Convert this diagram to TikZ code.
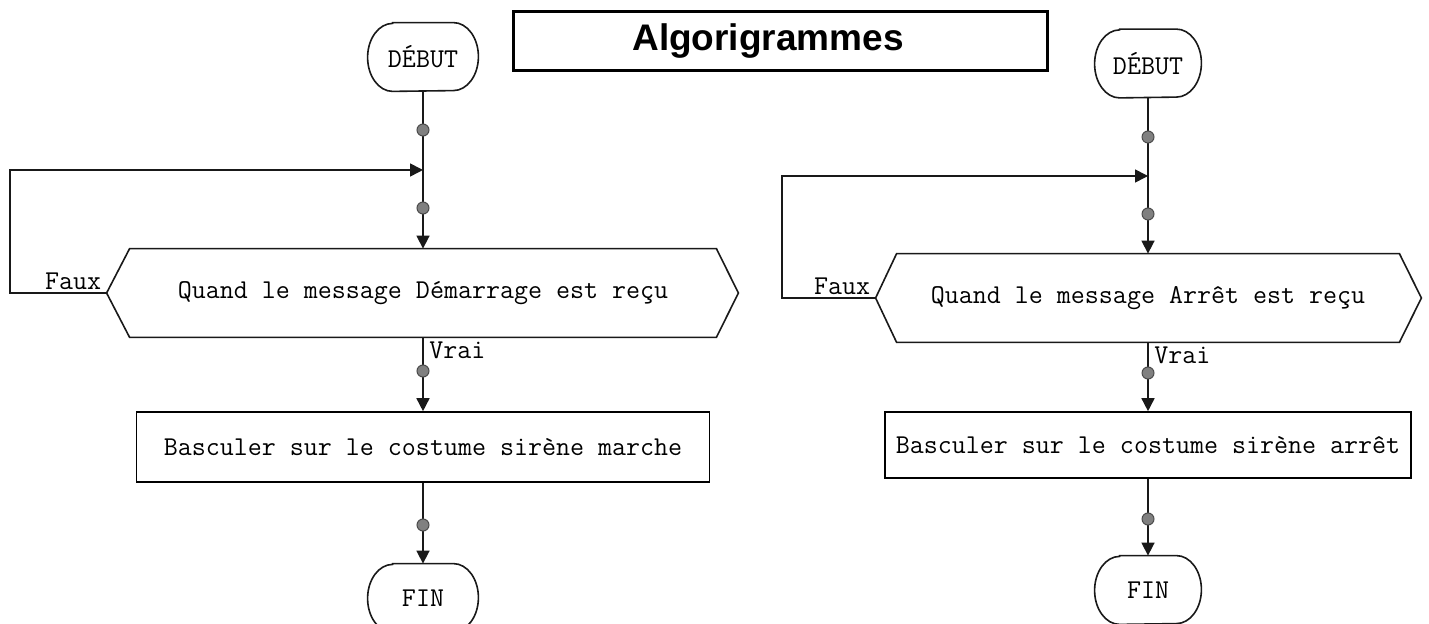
\documentclass[tikz,border=0pt]{standalone}
\usepackage{fontspec}
\setmainfont{Liberation Serif}
\newfontfamily\carial{Liberation Sans}
\usetikzlibrary{arrows.meta,calc}
\tikzset{
  ln/.style={line width=0.8pt, draw=black!90},
  arr/.style={ln, -{Triangle[width=6.5pt,length=6.5pt]}},
  monofont/.style={font=\ttfamily\fontsize{13.6pt}{15pt}\selectfont},
  term/.style={inner sep=0pt, monofont},
  hexn/.style={inner sep=0pt, monofont},
  proc/.style={draw, line width=0.8pt, inner sep=0pt, monofont},
  dotn/.style={circle, fill=black!50, draw=black!70, line width=0.5pt, minimum size=6pt, inner sep=0pt},
  lbl/.style={inner sep=1pt, monofont},
  titlebox/.style={draw, line width=1.5pt, minimum width=267pt, minimum height=29.5pt, inner sep=0pt, font=\carial\bfseries\fontsize{18.5pt}{21pt}\selectfont}
}
\newcommand\termdraw[1]{%
  \draw[ln] ($(#1.north west)+(12.5pt,0)$) -- ($(#1.north east)+(-12.5pt,0)$)
    arc[start angle=90,end angle=-90,x radius=12.5pt,y radius=17pt]
    -- ($(#1.south west)+(12.5pt,0)$)
    arc[start angle=270,end angle=90,x radius=12.5pt,y radius=17pt] -- cycle;}
\begin{document}
\begin{tikzpicture}[x=0.5pt,y=-0.5pt]
\useasboundingbox (0,0) rectangle (1429,624);
\fill[white] (0,0) rectangle (1429,624);

% title
\node[titlebox] (title) at (780,41.5) {\hspace*{-12pt}Algorigrammes};

% ===== left diagram =====
\node[term, minimum width=55pt, minimum height=34pt] (d1) at (423,57) {DÉBUT};
\termdraw{d1}
\coordinate (j1) at (423,170);
\coordinate (l1) at (10,170);
\node[hexn, minimum width=293pt, minimum height=44pt] (h1) at (423,293) {Quand le message Démarrage est reçu};
\coordinate (h1l) at ($(h1.west)+(-23,0)$);
\coordinate (h1r) at ($(h1.east)+(22,0)$);
\draw[ln] (h1.north west) -- (h1.north east) -- (h1r) -- (h1.south east) -- (h1.south west) -- (h1l) -- cycle;
\node[proc, minimum width=286.5pt, minimum height=35pt] (p1) at (423,447) {Basculer sur le costume sirène marche};
\node[term, minimum width=55pt, minimum height=34pt] (f1) at (423,598) {FIN};
\termdraw{f1}

\draw[ln] (d1.south) -- (j1);
\draw[arr] (j1) -- (h1.north);
\draw[arr] (h1.south) -- (p1.north);
\draw[arr] (p1.south) -- (f1.north);
\draw[arr] (h1l) -| (l1) -- (j1);

\node[dotn] (a1) at (423,130) {};
\node[dotn] (b1) at (423,208) {};
\node[dotn] (c1) at (423,371) {};
\node[dotn] (e1) at (423,525) {};

\node[lbl, anchor=south east] (faux1) at ($(h1l)+(-3,-1)$) {Faux};
\node[lbl, anchor=north west] (vrai1) at ($(h1.south)+(4,2)$) {Vrai};

% ===== right diagram =====
\node[term, minimum width=53pt, minimum height=34pt] (d2) at (1148,63.5) {DÉBUT};
\termdraw{d2}
\coordinate (j2) at (1148,176);
\coordinate (l2) at (782,176);
\node[hexn, minimum width=251pt, minimum height=44pt] (h2) at (1148,298) {Quand le message Arrêt est reçu};
\coordinate (h2l) at ($(h2.west)+(-21,0)$);
\coordinate (h2r) at ($(h2.east)+(22,0)$);
\draw[ln] (h2.north west) -- (h2.north east) -- (h2r) -- (h2.south east) -- (h2.south west) -- (h2l) -- cycle;
\node[proc, minimum width=263pt, minimum height=33pt] (p2) at (1148,445) {Basculer sur le costume sirène arrêt};
\node[term, minimum width=53pt, minimum height=34pt] (f2) at (1148,590) {FIN};
\termdraw{f2}

\draw[ln] (d2.south) -- (j2);
\draw[arr] (j2) -- (h2.north);
\draw[arr] (h2.south) -- (p2.north);
\draw[arr] (p2.south) -- (f2.north);
\draw[arr] (h2l) -| (l2) -- (j2);

\node[dotn] (a2) at (1148,137) {};
\node[dotn] (b2) at (1148,214) {};
\node[dotn] (c2) at (1148,373) {};
\node[dotn] (e2) at (1148,519) {};

\node[lbl, anchor=south east] (faux2) at ($(h2l)+(-3,-1)$) {Faux};
\node[lbl, anchor=north west] (vrai2) at ($(h2.south)+(4,2)$) {Vrai};
\end{tikzpicture}
\end{document}
